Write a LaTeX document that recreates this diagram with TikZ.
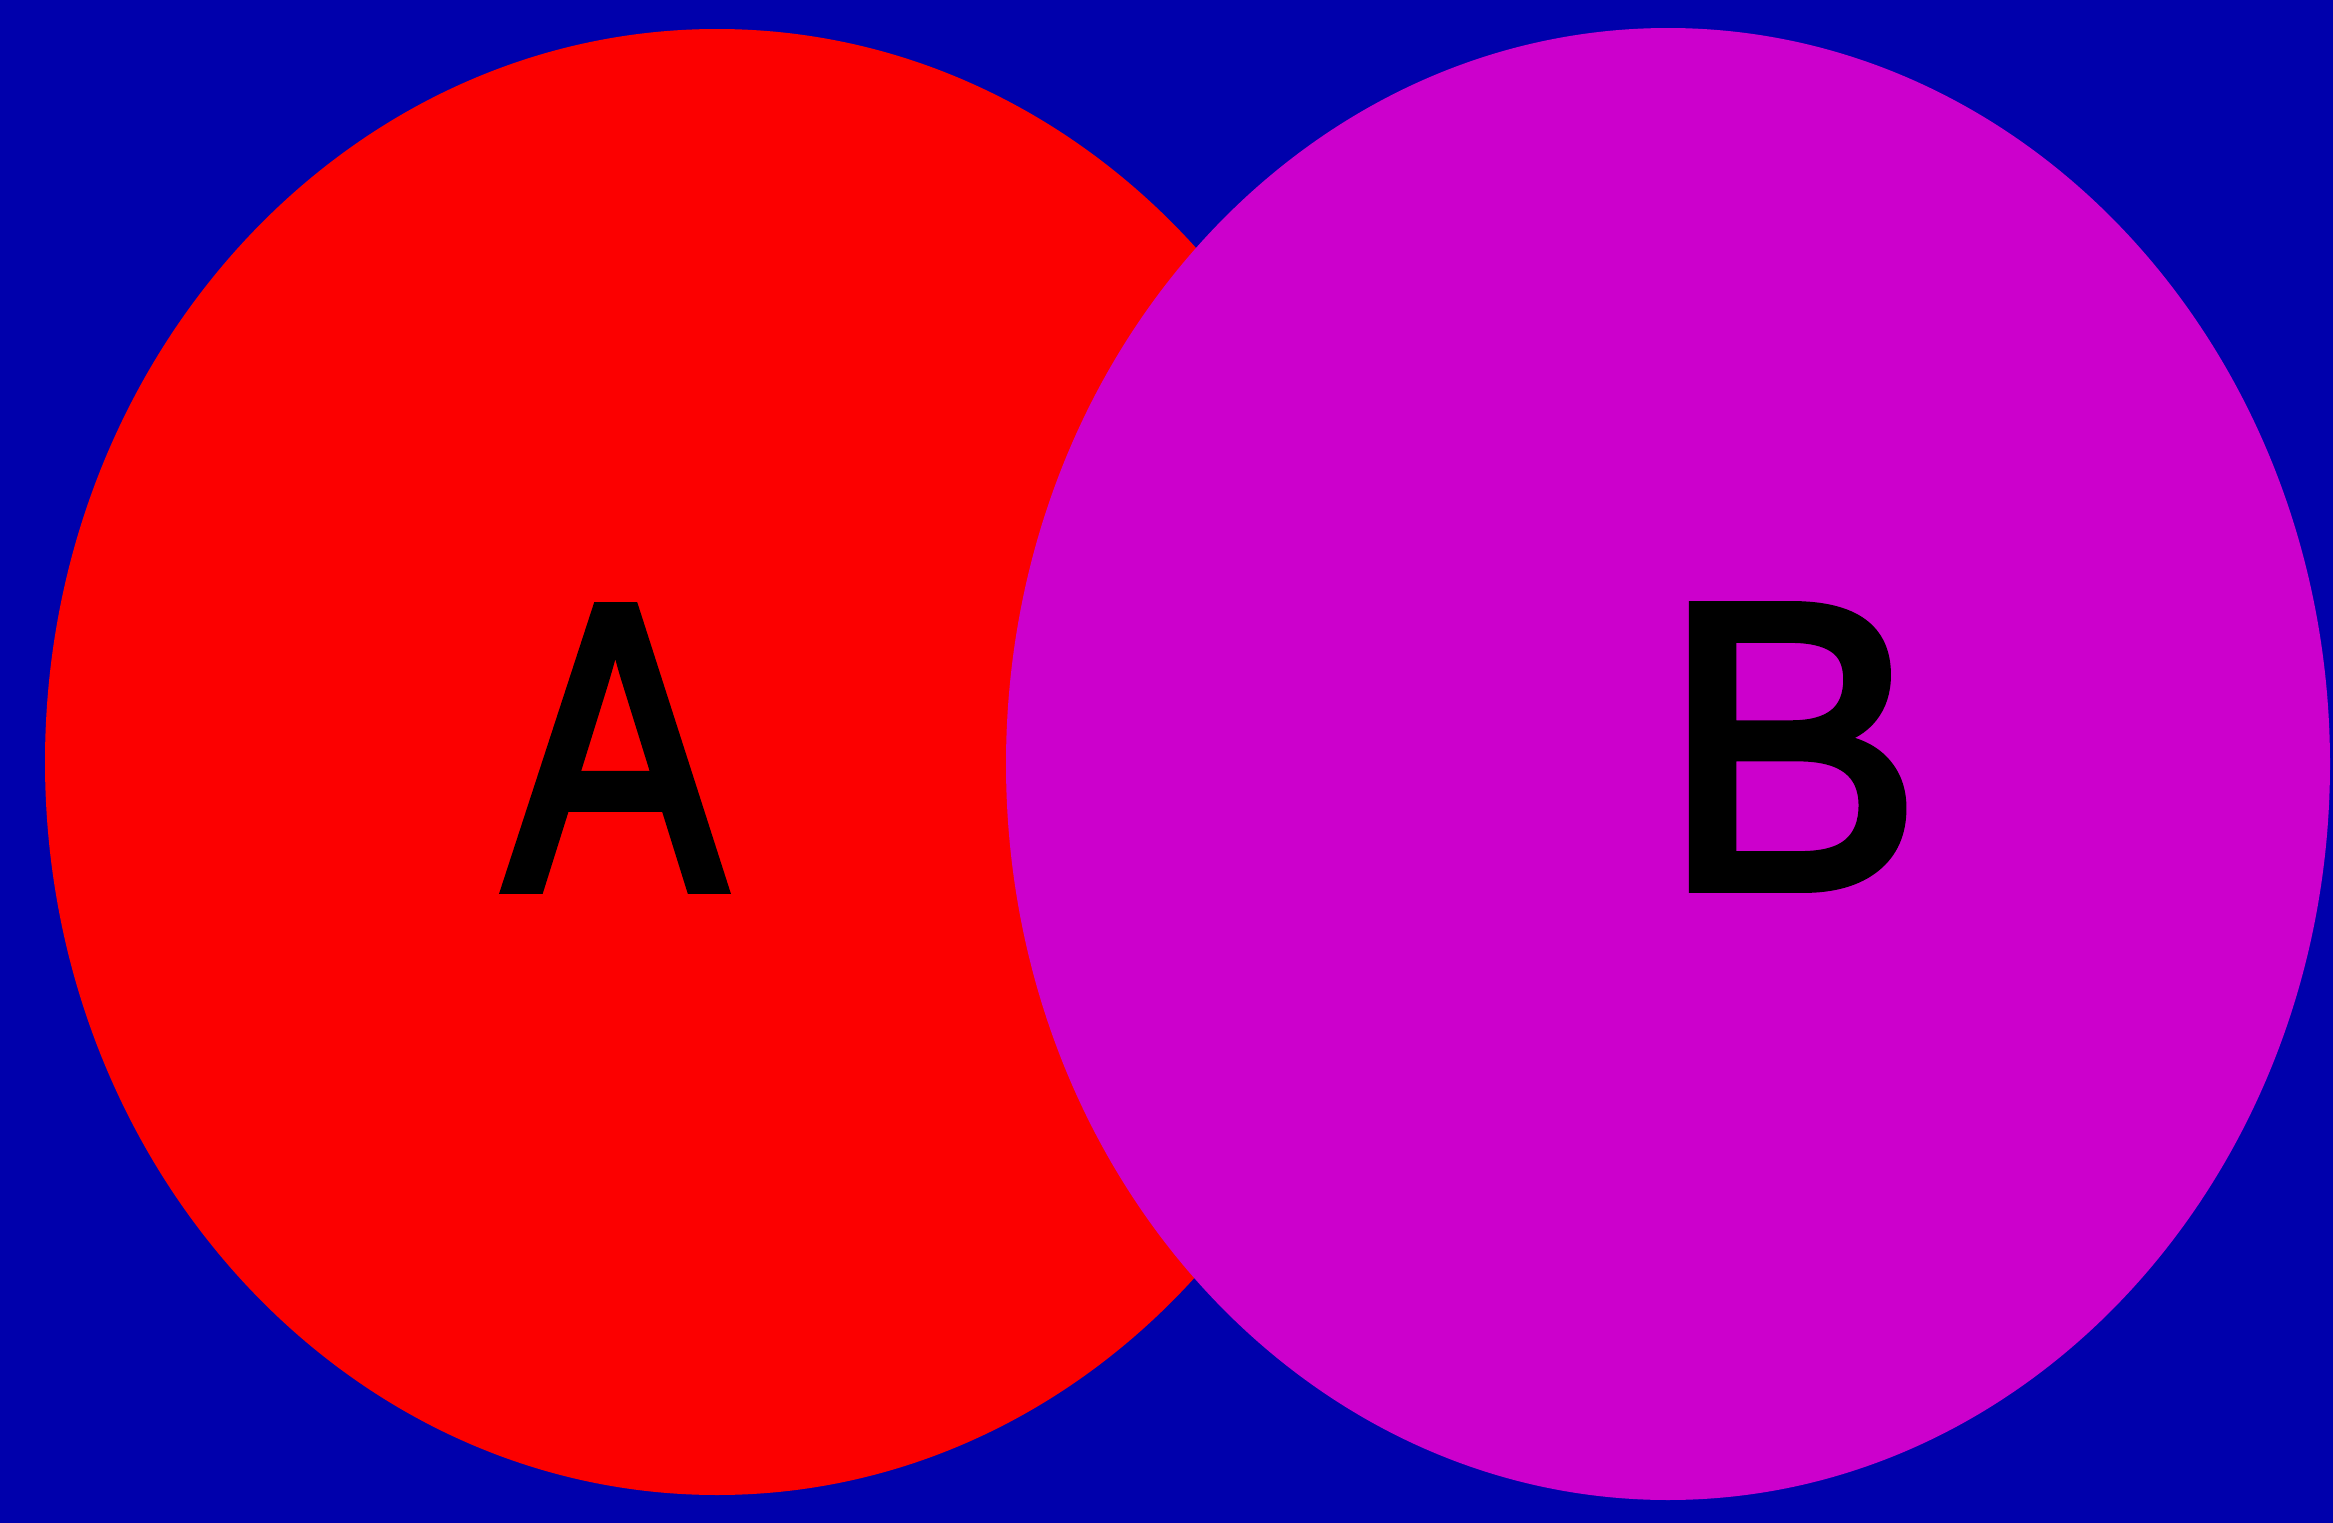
\documentclass[tikz,border=0pt]{standalone}
\usepackage{fontspec}
\setmainfont{Liberation Sans}
\newfontfamily\setfontA{Liberation Sans}[FakeBold=2.8, FakeStretch=0.8]
\newfontfamily\setfontB{Liberation Sans}[FakeBold=2.8, FakeStretch=0.95]
\usepackage{xcolor}
\definecolor{vnblue}{RGB}{0,0,172}
\definecolor{vnred}{RGB}{252,0,0}
\definecolor{vnmagenta}{RGB}{204,0,204}
\usetikzlibrary{shapes.geometric}

\begin{document}
\begin{tikzpicture}[x=0.1mm, y=-0.1mm,
    setshape/.style={ellipse, draw=none, inner sep=0pt},
    setlabel/.style={inner sep=0pt, text=black}]
      % Background
      \fill[vnblue] (0,0) rectangle (2333,1523);
      \useasboundingbox (0,0) rectangle (2333,1523);
      % Set A, then set B over it
      \node[setshape, fill=vnred, minimum width=134.4mm,
            minimum height=146.6mm] (setA) at (717,762) {};
      \node[setshape, fill=vnmagenta, minimum width=132.4mm,
            minimum height=147.2mm] (setB) at (1668,764) {};
      % Labels
      \node[setlabel, font=\setfontA\fontsize{116}{116}\selectfont]
            (labA) at (615,748) {A};
      \node[setlabel, font=\setfontB\fontsize{116}{116}\selectfont]
            (labB) at (1792,747) {B};
    \end{tikzpicture}
\end{document}
